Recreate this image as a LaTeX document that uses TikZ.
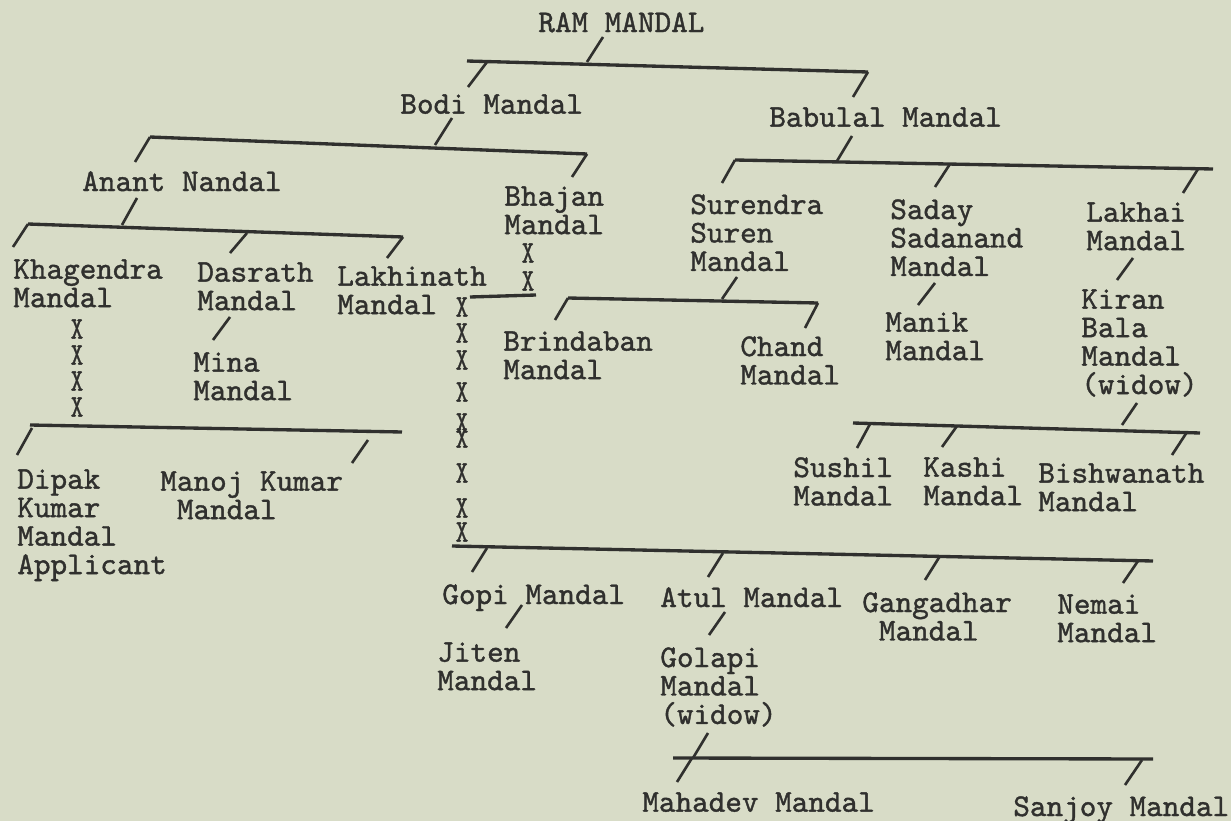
\documentclass[tikz,border=0pt]{standalone}
\usepackage{fontspec}
\newfontfamily\typeFace{lmmono10-regular.otf}[FakeBold=1.2]
\usetikzlibrary{positioning}
\definecolor{paper}{RGB}{216,220,199}
\definecolor{ink}{RGB}{48,48,46}
\newcommand{\treeFont}{\typeFace\fontsize{18}{16.2}\selectfont}
\newcommand{\xMark}{\scalebox{0.75}[1.0]{X}}

\begin{document}
\begin{tikzpicture}[x=0.02cm, y=-0.02cm,
	famline/.style={ink, line width=1.9pt},
	kin/.style={ink, line width=1.5pt},
	xmark/.style={text=ink, font=\treeFont, inner sep=0pt, anchor=center},
	every node/.style={text=ink, font=\treeFont, inner sep=0pt, anchor=north west, align=left}]
	\fill[paper] (0,0) rectangle (1231,821);
	\useasboundingbox (0,0) rectangle (1231,821);

	% generation 1
	\node (ram) at (538,12) {RAM MANDAL};
	% generation 2
	\node (bodi) at (400,94) {Bodi Mandal};
	\node (babulal) at (769,107) {Babulal Mandal};
	% generation 3
	\node (anant) at (82,171) {Anant Nandal};
	\node (bhajan) at (504,186) {Bhajan\\Mandal};
	\node (surendra) at (690,194) {Surendra\\Suren\\Mandal};
	\node (saday) at (890,199) {Saday\\Sadanand\\Mandal};
	\node (lakhai) at (1086,202) {Lakhai\\Mandal};
	% generation 4
	\node (khagendra) at (13,259) {Khagendra\\Mandal};
	\node (dasrath) at (197,262) {Dasrath\\Mandal};
	\node (lakhinath) at (337,266) {Lakhinath\\Mandal};
	\node (mina) at (193,352) {Mina\\Mandal};
	\node (brindaban) at (503,331) {Brindaban\\Mandal};
	\node (chand) at (740,336) {Chand\\Mandal};
	\node (manik) at (885,312) {Manik\\Mandal};
	\node (kiran) at (1081,289) {Kiran\\Bala\\Mandal\\(widow)};
	% generation 5
	\node (dipak) at (17,469) {Dipak\\Kumar\\Mandal\\Applicant};
	\node (manoj) at (160,471) {Manoj Kumar\\\phantom{M}Mandal};
	\node (sushil) at (793,457) {Sushil\\Mandal};
	\node (kashi) at (923,457) {Kashi\\Mandal};
	\node (bishwanath) at (1038,463) {Bishwanath\\Mandal};
	\node (gopi) at (442,584) {Gopi Mandal};
	\node (atul) at (660,587) {Atul Mandal};
	\node (gangadhar) at (862,592) {Gangadhar\\\phantom{M}Mandal};
	\node (nemai) at (1057,594) {Nemai\\Mandal};
	\node (jiten) at (437,642) {Jiten\\Mandal};
	\node (golapi) at (660,647) {Golapi\\Mandal\\(widow)};
	\node (mahadev) at (642,792) {Mahadev Mandal};
	\node (sanjoy) at (1013,796) {Sanjoy Mandal};

	% family bars
	\draw[famline] (467,61) coordinate (ramL) -- (868,72) coordinate (ramR);
	\draw[famline] (150,137) coordinate (bodiL) -- (587,154) coordinate (bodiR);
	\draw[famline] (735,160) coordinate (babuL) -- (1213,169) coordinate (babuR);
	\draw[famline] (28,224) coordinate (anantL) -- (403,237) coordinate (anantR);
	\draw[famline] (568,298) coordinate (surL) -- (818,303) coordinate (surR);
	\draw[famline] (30,425) coordinate (khagL) -- (402,432) coordinate (khagR);
	\draw[famline] (853,423) coordinate (kiranL) -- (1200,433) coordinate (kiranR);
	\draw[famline] (452,546) coordinate (bhajL) -- (1153,561) coordinate (bhajR);
	\draw[famline] (673,758) coordinate (golL) -- (1153,759) coordinate (golR);
	\draw[famline] (470,297) coordinate (linkL) -- (536,295) coordinate (linkR);

	% slashes up to the parents
	\draw[kin] (587,62) -- (603,37);
	\draw[kin] (435,145) -- (452,118);
	\draw[kin] (837,161) -- (852,136);
	\draw[kin] (122,225) -- (137,198);
	\draw[kin] (722,299) -- (737,277);
	\draw[kin] (1122,425) -- (1137,403);
	\draw[kin] (693,758) -- (708,733);
	% slashes down to the children
	\draw[kin] (487,62) -- (468,87);
	\draw[kin] (ramR) -- (853,97);
	\draw[kin] (bodiL) -- (135,162);
	\draw[kin] (bodiR) -- (572,177);
	\draw[kin] (babuL) -- (722,183);
	\draw[kin] (950,164) -- (935,187);
	\draw[kin] (1198,169) -- (1183,193);
	\draw[kin] (anantL) -- (13,247);
	\draw[kin] (247,233) -- (230,253);
	\draw[kin] (anantR) -- (387,258);
	\draw[kin] (surL) -- (555,320);
	\draw[kin] (surR) -- (805,328);
	\draw[kin] (935,283) -- (918,305);
	\draw[kin] (1133,258) -- (1117,280);
	\draw[kin] (230,317) -- (213,340);
	\draw[kin] (32,428) -- (17,455);
	\draw[kin] (368,440) -- (352,463);
	\draw[kin] (870,424) -- (857,448);
	\draw[kin] (957,426) -- (942,447);
	\draw[kin] (1187,432) -- (1172,455);
	\draw[kin] (487,548) -- (472,572);
	\draw[kin] (723,553) -- (708,577);
	\draw[kin] (940,556) -- (925,580);
	\draw[kin] (1138,561) -- (1123,583);
	\draw[kin] (522,605) -- (506,628);
	\draw[kin] (725,612) -- (709,635);
	\draw[kin] (692,758) -- (677,782);
	\draw[kin] (1142,760) -- (1125,785);

	% x-chains
	\foreach \y [count=\i] in {329,355,381,407}
		\node[xmark] (kx\i) at (77,\y) {\xMark};
	\foreach \y [count=\i] in {253,281}
		\node[xmark] (bx\i) at (528,\y) {\xMark};
	\foreach \y [count=\i] in {307,333,360,392,423,438,473,508,532}
		\node[xmark] (lx\i) at (462,\y) {\xMark};
\end{tikzpicture}
\end{document}
